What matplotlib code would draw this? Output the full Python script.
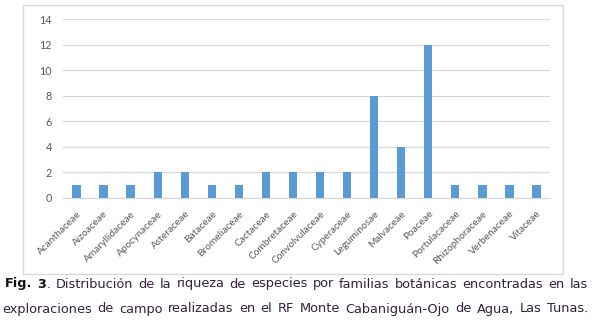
import numpy as np
import matplotlib
matplotlib.use("Agg")
import matplotlib.pyplot as plt
from matplotlib.patches import Rectangle

familias = ['Acanthaceae', 'Aizoaceae', 'Amaryllidaceae', 'Apocynaceae', 'Asteraceae',
            'Bataceae', 'Bromeliaceae', 'Cactaceae', 'Combretaceae', 'Convolvulaceae',
            'Cyperaceae', 'Leguminosae', 'Malvaceae', 'Poaceae', 'Portulacaceae',
            'Rhizophoraceae', 'Verbenaceae', 'Vitaceae']
especies = [1, 1, 1, 2, 2, 1, 1, 2, 2, 2, 2, 8, 4, 12, 1, 1, 1, 1]
yticks = [0, 2, 4, 6, 8, 10, 12, 14]

linea1 = [[('Fig.', True)], [('3', True), ('.', False)], [('Distribución', False)], [('de', False)],
          [('la', False)], [('riqueza', False)], [('de', False)], [('especies', False)],
          [('por', False)], [('familias', False)], [('botánicas', False)], [('encontradas', False)],
          [('en', False)], [('las', False)]]
linea2 = [[(w, False)] for w in
          'exploraciones de campo realizadas en el RF Monte Cabaniguán-Ojo de Agua, Las Tunas.'.split()]

W, H = 595, 323
fig = plt.figure(figsize=(W / 100, H / 100), dpi=100)

# marco gris del gráfico
fig.patches.append(Rectangle((23 / W, 1 - 274 / H), 540 / W, 269 / H, transform=fig.transFigure,
                             fill=False, edgecolor='#D9D9D9', linewidth=1))

ax = fig.add_axes([63 / W, 1 - 198 / H, 487 / W, 179 / H])
x = np.arange(len(familias))
ax.bar(x, especies, width=0.31, color='#5B9BD5', zorder=3)
ax.set_xlim(-0.5, len(familias) - 0.5)
ax.set_ylim(0, 14)
ax.set_yticks(yticks)
ax.grid(axis='y', color='#D9D9D9', linewidth=0.9)
ax.set_axisbelow(True)
for s in ['top', 'right', 'left']:
    ax.spines[s].set_visible(False)
ax.spines['bottom'].set_color('#D9D9D9')
ax.tick_params(length=0)
ax.tick_params(axis='y', pad=8, labelsize=7.8, labelcolor='#595959')
ax.set_xticks(x)
ax.set_xticklabels(familias, rotation=45, ha='right', rotation_mode='anchor',
                   fontsize=7.3, color='#595959', family='Lato')
ax.tick_params(axis='x', pad=8)
for lab in ax.get_yticklabels():
    lab.set_family('Lato')

# pie de figura justificado
renderer = fig.canvas.get_renderer()
color_txt = '#33203f'


def justificar(palabras, ypix, x0, x1, size=9.3):
    grupos = []
    total = 0
    for runs in palabras:
        ts = []
        for txt, negrita in runs:
            t = fig.text(0, 1 - ypix / H, txt, fontsize=size, va='center', ha='left',
                         fontweight='bold' if negrita else 'normal',
                         color='#111111' if negrita else color_txt)
            ts.append((t, t.get_window_extent(renderer).width))
        grupos.append(ts)
        total += sum(w for _, w in ts)
    gap = (x1 - x0 - total) / (len(grupos) - 1)
    pos = x0
    for ts in grupos:
        for t, w in ts:
            t.set_x(pos / W)
            pos += w
        pos += gap


justificar(linea1, 284, 5, 588)
justificar(linea2, 309, 2, 588)

fig.savefig('out.png', dpi=100)
